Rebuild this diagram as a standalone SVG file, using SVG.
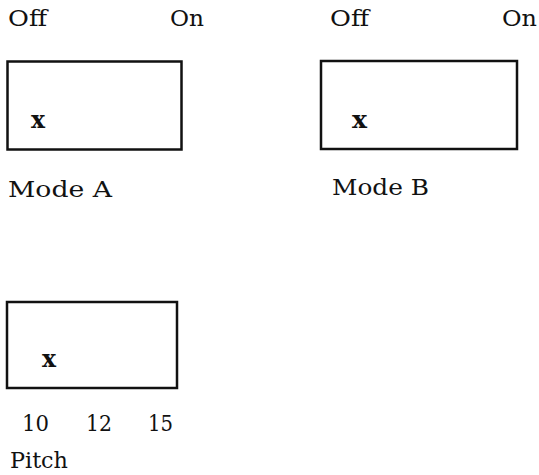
<svg xmlns="http://www.w3.org/2000/svg" width="539" height="475" viewBox="0 0 539 475">
<style>
text{font-family:"DejaVu Serif","Liberation Serif",serif;font-size:23px;fill:#111}
.x{font-weight:bold;font-size:24px}
.box{fill:none;stroke:#111;stroke-width:2.5}
</style>
<rect width="539" height="475" fill="#fff"/>
<g id="modeA">
<text x="8" y="26" textLength="39" lengthAdjust="spacingAndGlyphs">Off</text>
<text x="170" y="26" textLength="34" lengthAdjust="spacingAndGlyphs">On</text>
<rect class="box" x="7.5" y="61.5" width="174" height="88"/>
<text class="x" x="31" y="128" textLength="14" lengthAdjust="spacingAndGlyphs">x</text>
<text x="8" y="197" textLength="104" lengthAdjust="spacingAndGlyphs">Mode A</text>
</g>
<g id="modeB">
<text x="330" y="26" textLength="39" lengthAdjust="spacingAndGlyphs">Off</text>
<text x="502" y="26" textLength="35" lengthAdjust="spacingAndGlyphs">On</text>
<rect class="box" x="321" y="61" width="196" height="88"/>
<text class="x" x="352" y="128" textLength="15" lengthAdjust="spacingAndGlyphs">x</text>
<text x="332" y="195" textLength="97" lengthAdjust="spacingAndGlyphs">Mode B</text>
</g>
<g id="pitch">
<rect class="box" x="7" y="302" width="170" height="86"/>
<text class="x" x="42" y="367" textLength="14" lengthAdjust="spacingAndGlyphs">x</text>
<text x="22" y="431" textLength="27" lengthAdjust="spacingAndGlyphs">10</text>
<text x="86" y="431" textLength="26" lengthAdjust="spacingAndGlyphs">12</text>
<text x="148" y="431" textLength="25" lengthAdjust="spacingAndGlyphs">15</text>
<text x="10" y="468" textLength="58" lengthAdjust="spacingAndGlyphs">Pitch</text>
</g>
<g id="connectors"/>
</svg>
